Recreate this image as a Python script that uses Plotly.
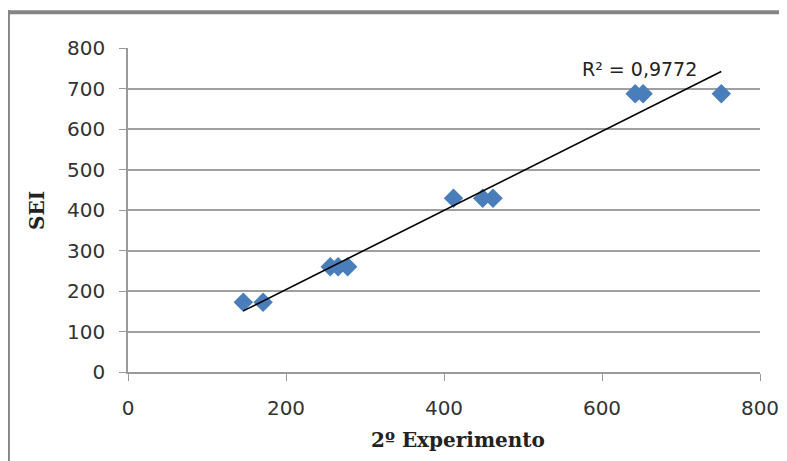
import numpy as np
import plotly.graph_objects as go

# valores (2º Experimento x SEI)
experimento2 = [146, 171, 256, 266, 278, 412, 449, 462, 642, 652, 751]
sei = [172, 172, 260, 260, 260, 429, 429, 429, 687, 687, 687]
r2_label = "R² = 0,9772"

# linha de tendência linear
a, b = np.polyfit(experimento2, sei, 1)
x_fit = [min(experimento2), max(experimento2)]
y_fit = [a * v + b for v in x_fit]

fig = go.Figure()
fig.add_trace(go.Scatter(x=experimento2, y=sei, mode='markers',
                         marker=dict(symbol='diamond', size=15, color='#4a7ebb')))
fig.add_trace(go.Scatter(x=x_fit, y=y_fit, mode='lines',
                         line=dict(color='black', width=1.6)))

axis_font = dict(family='DejaVu Sans', size=20, color='#333333')
fig.update_xaxes(range=[0, 800], tickvals=[0, 200, 400, 600, 800], showgrid=False,
                 showline=True, linecolor='#9a9a9a', linewidth=1.5,
                 ticks='outside', ticklen=7, tickcolor='#9a9a9a', automargin=False,
                 ticklabelstandoff=10, tickfont=axis_font, zeroline=False)
fig.update_yaxes(range=[0, 800], tickvals=list(range(0, 801, 100)),
                 showgrid=True, gridcolor='#a0a0a0', gridwidth=1.5,
                 showline=True, linecolor='#9a9a9a', linewidth=1.5,
                 ticks='outside', ticklen=7, tickcolor='#9a9a9a', automargin=False,
                 ticklabelstandoff=10, tickfont=axis_font, zeroline=False)

# a página tem 8px de margem no body, por isso 779x453
title_font = dict(family='DejaVu Serif', size=20, color='#222222')
fig.update_layout(
    width=779, height=453, showlegend=False,
    margin=dict(l=120, r=27, t=40, b=89),
    plot_bgcolor='white', paper_bgcolor='white',
    annotations=[
        dict(text='<b>2º Experimento</b>', x=0.522, y=-0.21, xref='paper', yref='paper',
             xanchor='center', yanchor='middle', showarrow=False, font=title_font),
        dict(text='<b>SEI</b>', x=-0.144, y=0.5, xref='paper', yref='paper',
             xanchor='center', yanchor='middle', showarrow=False, textangle=-90,
             font=title_font),
        dict(text=r2_label, x=0.81, y=0.935, xref='paper', yref='paper',
             xanchor='center', yanchor='middle', showarrow=False,
             font=dict(family='DejaVu Sans', size=19, color='#222222')),
    ],
    shapes=[
        dict(type='line', xref='paper', yref='paper', x0=-0.19, x1=1.1, y0=1.11, y1=1.11,
             line=dict(color='#858585', width=4)),
        dict(type='line', xref='paper', yref='paper', x0=-0.19, x1=-0.19, y0=1.117, y1=-0.4,
             line=dict(color='#858585', width=4)),
    ],
)

fig.write_html("out.html")
